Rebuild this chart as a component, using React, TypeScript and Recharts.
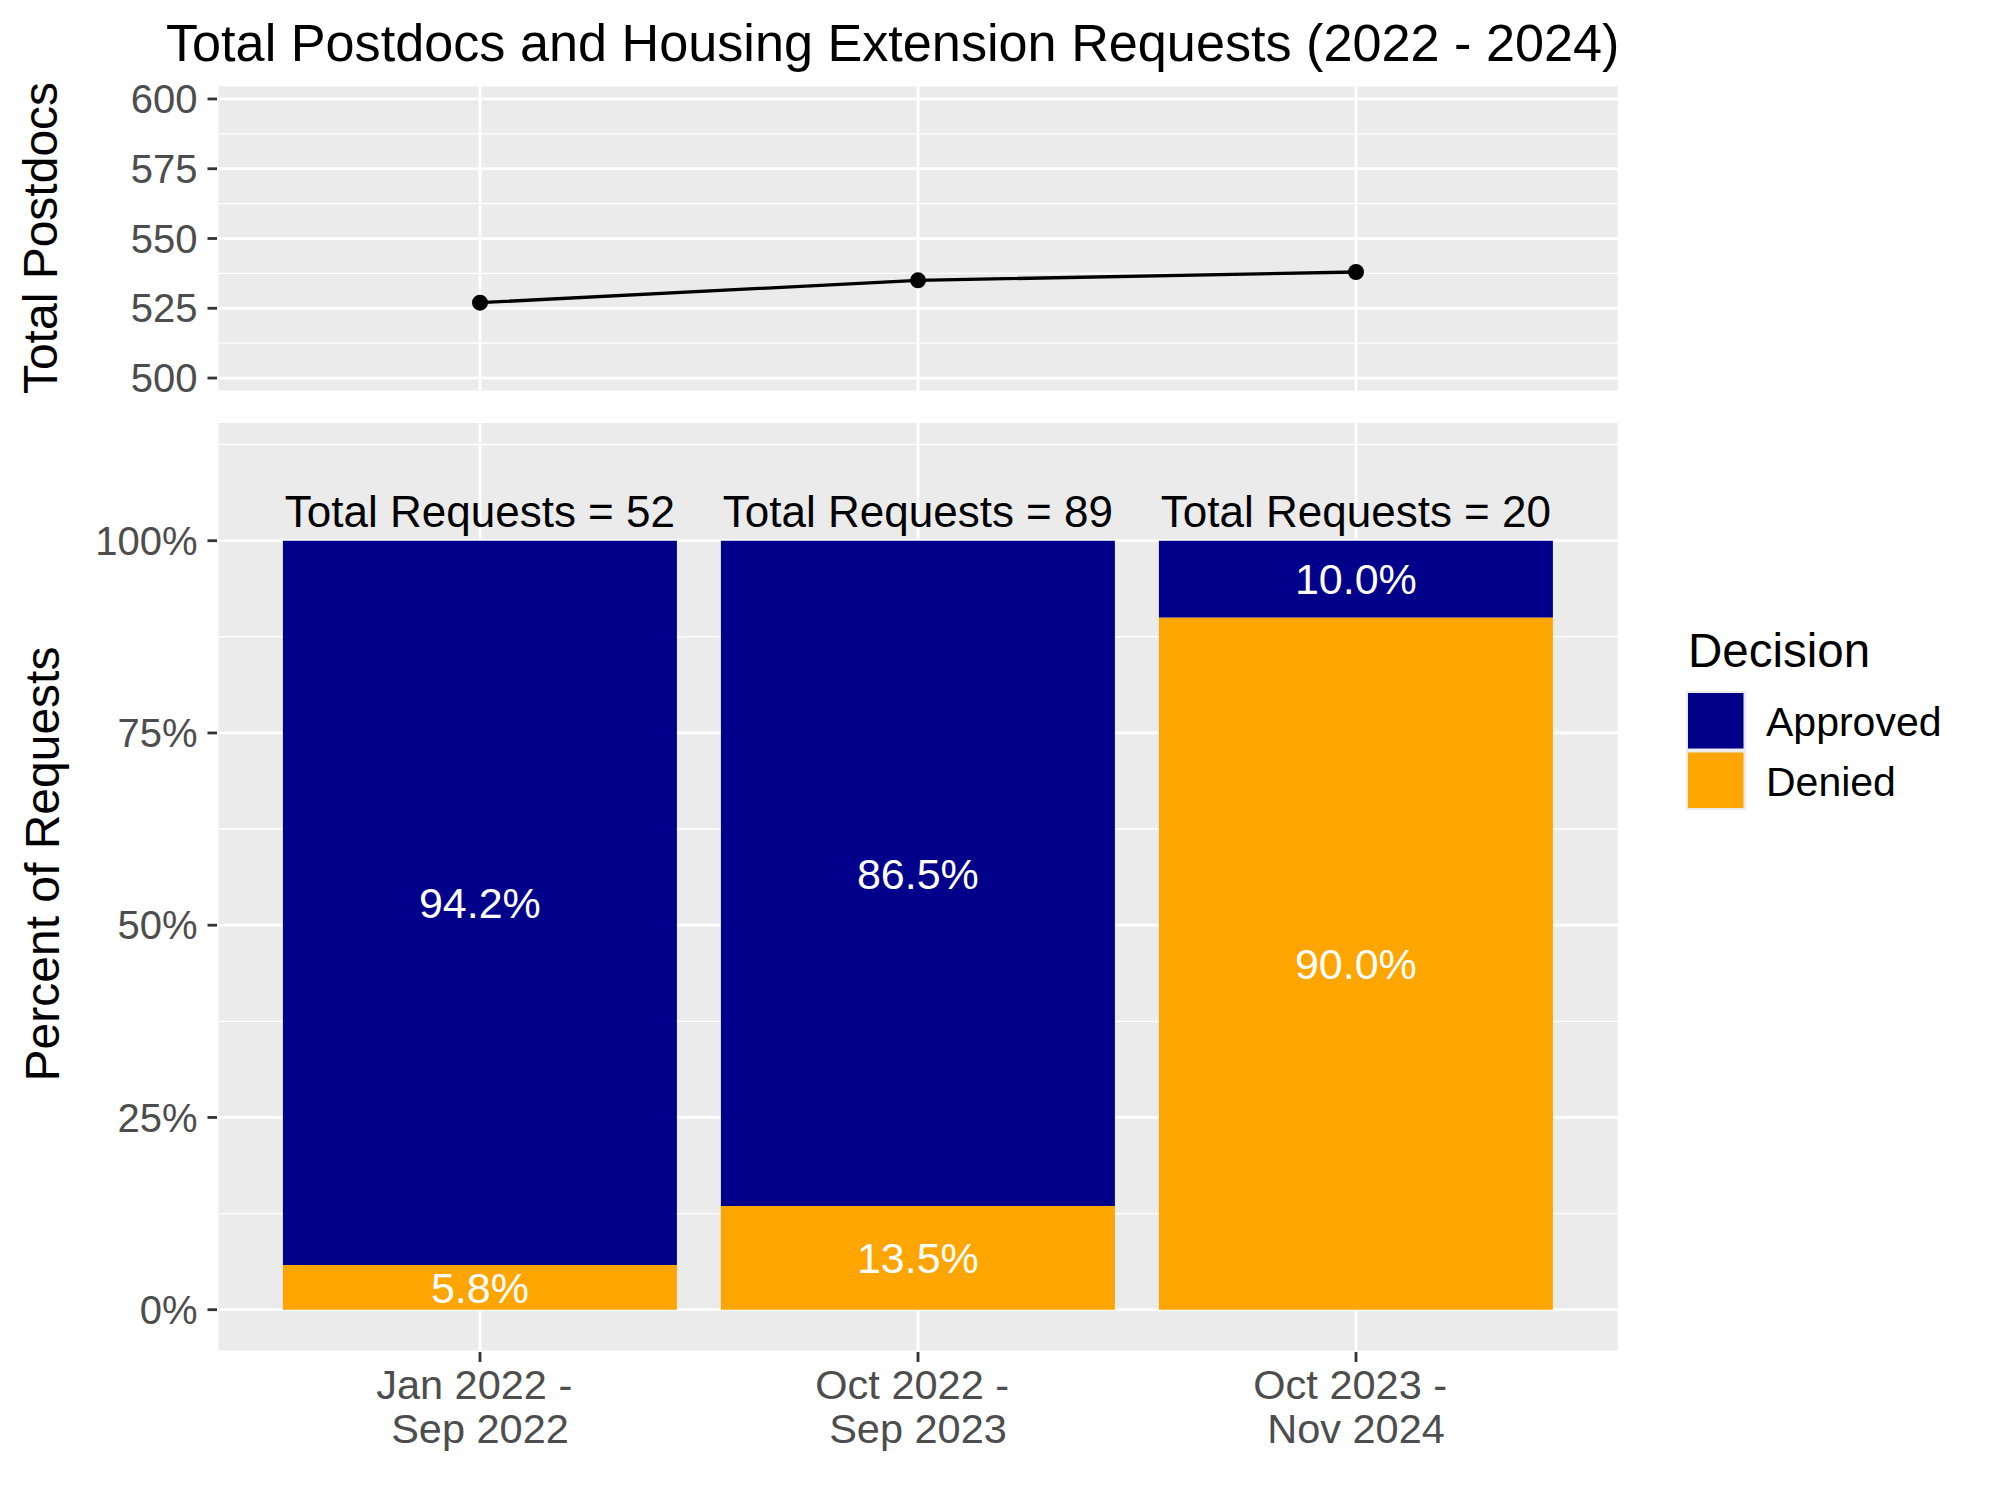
import React from 'react';
import { ComposedChart, Bar, Line, XAxis, YAxis, CartesianGrid, LabelList } from 'recharts';

// ---------- data ----------
const periods = ['Jan 2022 - \nSep 2022', 'Oct 2022 - \nSep 2023', 'Oct 2023 - \nNov 2024'];
const totalPostdocs = [527, 535, 538];
const approvedPct = [94.2, 86.5, 10.0];
const deniedPct = [5.8, 13.5, 90.0];
const totalRequests = [52, 89, 20];

const postdocTicks = [500, 525, 550, 575, 600];
const postdocMinor = [512.5, 537.5, 562.5, 587.5];
const pctTicks = [0, 25, 50, 75, 100];
const pctMinor = [12.5, 37.5, 62.5, 87.5, 112.5];

const decisions = ['Approved', 'Denied'];

// ---------- styles ----------
const FONT = '"Liberation Sans", Arial, Helvetica, sans-serif';
const COLORS: Record<string, string> = { Approved: '#00008B', Denied: '#FFA500' };
const PANEL_BG = '#EBEBEB';
const AXIS_TEXT = '#4D4D4D';
const TICK_COLOR = '#333333';
const MAJOR_W = 2.8;
const MINOR_W = 1.4;

const lineData = periods.map((p, i) => ({ period: p, total: totalPostdocs[i] }));
const barData = periods.map((p, i) => ({
  period: p,
  Approved: approvedPct[i],
  Denied: deniedPct[i],
  total: totalRequests[i],
}));

const XTick = (props: any) => {
  const { x, y, payload } = props;
  const lines = String(payload.value).split('\n');
  return (
    <text
      x={x}
      y={y}
      textAnchor="middle"
      fill={AXIS_TEXT}
      fontSize={41.5}
      fontFamily={FONT}
      style={{ whiteSpace: 'pre' }}
    >
      {lines.map((l, i) => (
        <tspan key={i} x={x} dy={i === 0 ? 37 : 44}>
          {l}
        </tspan>
      ))}
    </text>
  );
};

const yTickStyle = { fontSize: 40, fill: AXIS_TEXT, fontFamily: FONT };
const yTickLine = { stroke: TICK_COLOR, strokeWidth: MAJOR_W };

export default function App() {
  return (
    <div
      style={{
        position: 'absolute',
        left: 0,
        top: 0,
        width: 2000,
        height: 1500,
        background: '#FFFFFF',
        fontFamily: FONT,
      }}
    >
      {/* Top panel: total postdocs */}
      <div style={{ position: 'absolute', left: 0, top: 0 }}>
        <ComposedChart
          width={2000}
          height={410}
          data={lineData}
          margin={{ top: 85, right: 381, bottom: 18, left: 0 }}
        >
          <CartesianGrid fill={PANEL_BG} stroke="#FFFFFF" strokeWidth={MAJOR_W} />
          <CartesianGrid
            vertical={false}
            horizontalValues={postdocMinor}
            stroke="#FFFFFF"
            strokeWidth={MINOR_W}
          />
          <XAxis
            dataKey="period"
            type="category"
            scale="band"
            padding={{ left: 44, right: 44 }}
            hide
          />
          <YAxis
            type="number"
            domain={[495, 605]}
            ticks={postdocTicks}
            interval={0}
            width={217}
            axisLine={false}
            tickLine={yTickLine}
            tickSize={9.5}
            tickMargin={10}
            tick={yTickStyle}
            allowDataOverflow
          />
          <Line
            dataKey="total"
            stroke="#000000"
            strokeWidth={3.3}
            dot={{ r: 8, fill: '#000000', stroke: 'none' }}
            isAnimationActive={false}
          />
        </ComposedChart>
      </div>

      {/* Bottom panel: percent of requests */}
      <div style={{ position: 'absolute', left: 0, top: 400 }}>
        <ComposedChart
          width={2000}
          height={1100}
          data={barData}
          margin={{ top: 21.5, right: 381, bottom: 0, left: 0 }}
          barCategoryGap="5%"
        >
          <CartesianGrid fill={PANEL_BG} stroke="#FFFFFF" strokeWidth={MAJOR_W} />
          <CartesianGrid
            vertical={false}
            horizontalValues={pctMinor}
            stroke="#FFFFFF"
            strokeWidth={MINOR_W}
          />
          <XAxis
            dataKey="period"
            type="category"
            scale="band"
            padding={{ left: 44, right: 44 }}
            height={148}
            axisLine={false}
            tickLine={{ stroke: TICK_COLOR, strokeWidth: MAJOR_W }}
            tickSize={10}
            tickMargin={0}
            tick={<XTick />}
            interval={0}
          />
          <YAxis
            type="number"
            domain={[-5.5, 115.5]}
            ticks={pctTicks}
            interval={0}
            tickFormatter={(v: number) => `${v}%`}
            width={217}
            axisLine={false}
            tickLine={yTickLine}
            tickSize={9.5}
            tickMargin={10}
            tick={yTickStyle}
            allowDataOverflow
          />
          <Bar dataKey="Denied" stackId="d" fill={COLORS.Denied} isAnimationActive={false}>
            <LabelList
              dataKey="Denied"
              position="center"
              fill="#FFFFFF"
              fontSize={43}
              fontFamily={FONT}
              formatter={(v: any) => `${Number(v).toFixed(1)}%`}
            />
          </Bar>
          <Bar dataKey="Approved" stackId="d" fill={COLORS.Approved} isAnimationActive={false}>
            <LabelList
              dataKey="Approved"
              position="center"
              fill="#FFFFFF"
              fontSize={43}
              fontFamily={FONT}
              formatter={(v: any) => `${Number(v).toFixed(1)}%`}
            />
            <LabelList
              dataKey="total"
              position="top"
              offset={14}
              fill="#000000"
              fontSize={44}
              fontFamily={FONT}
              formatter={(v: any) => `Total Requests = ${v}`}
            />
          </Bar>
        </ComposedChart>
      </div>

      {/* Titles and legend */}
      <svg
        width={2000}
        height={1500}
        style={{ position: 'absolute', left: 0, top: 0, pointerEvents: 'none' }}
        fontFamily={FONT}
      >
        <text x={166} y={61} fontSize={52.2} fill="#000000" textAnchor="start">
          Total Postdocs and Housing Extension Requests (2022 - 2024)
        </text>
        <text
          x={57}
          y={238}
          fontSize={48}
          fill="#000000"
          textAnchor="middle"
          transform="rotate(-90 57 238)"
        >
          Total Postdocs
        </text>
        <text
          x={59}
          y={864}
          fontSize={48}
          fill="#000000"
          textAnchor="middle"
          transform="rotate(-90 59 864)"
        >
          Percent of Requests
        </text>
        <text x={1688} y={667} fontSize={47.5} fill="#000000">
          Decision
        </text>
        {decisions.map((d, i) => (
          <g key={d}>
            <rect x={1686} y={691 + i * 59.5} width={60} height={59.5} fill={PANEL_BG} />
            <rect x={1688} y={693 + i * 59.5} width={55.5} height={55.5} fill={COLORS[d]} />
            <text x={1766} y={736 + i * 59.5} fontSize={41} fill="#000000">
              {d}
            </text>
          </g>
        ))}
      </svg>
    </div>
  );
}
